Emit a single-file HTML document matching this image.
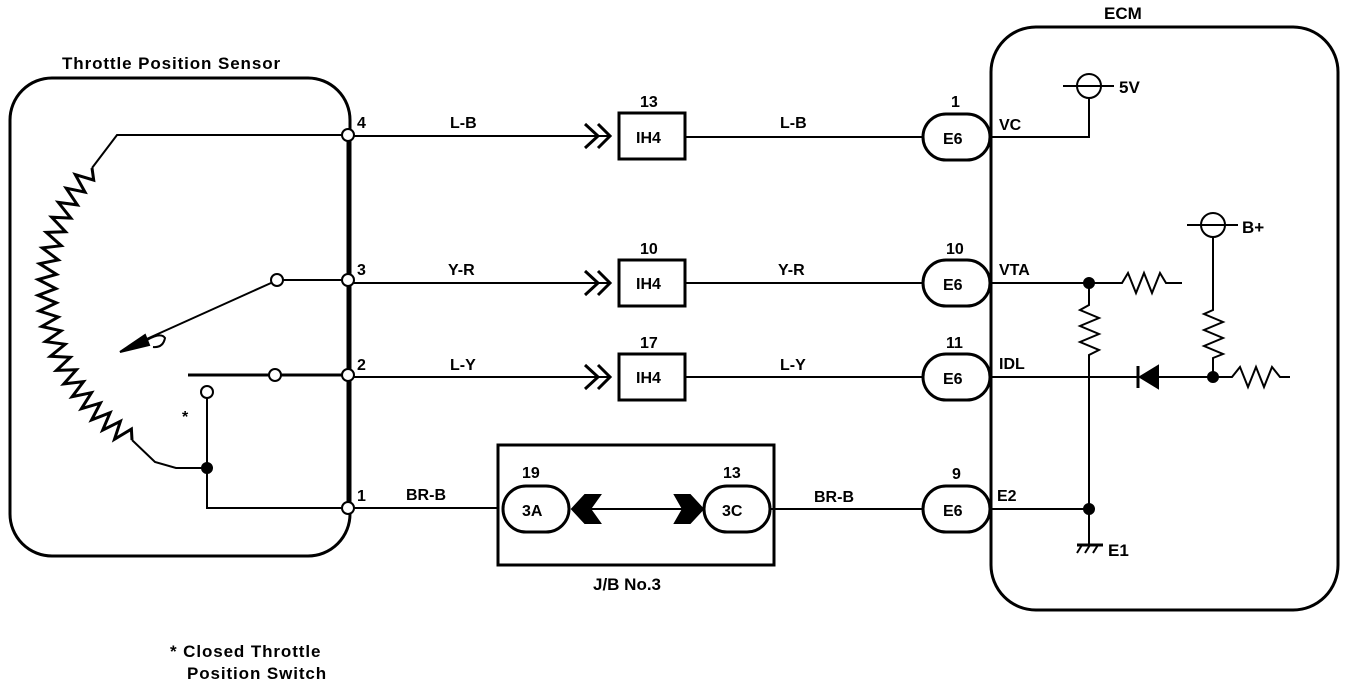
<!DOCTYPE html>
<html><head><meta charset="utf-8"><style>
html,body{margin:0;padding:0;background:#fff;}
svg{display:block;}
text{font-family:"Liberation Sans",Arial,sans-serif;font-weight:bold;fill:#000;}
</style></head><body>
<svg id="s" width="1360" height="686" viewBox="0 0 1360 686" xmlns="http://www.w3.org/2000/svg">
<g fill="none" stroke="#000" stroke-width="2">
<rect x="10" y="78" width="340" height="478" rx="42" stroke-width="3"/>
<rect x="991" y="27" width="347" height="583" rx="45" stroke-width="3"/>
<rect x="498" y="445" width="276" height="120" stroke-width="3"/>

<polyline points="348,135 117,135 92,168"/>
<path id="zz" d="" stroke-width="3"/>
<polyline points="132,440 155,462 176,468 207,468"/>
<circle cx="207" cy="468" r="5" fill="#000"/>
<polyline points="207,398 207,508 348,508"/>
<circle cx="207" cy="392" r="6" fill="#fff"/>
<line x1="283" y1="280" x2="348" y2="280"/>
<circle cx="277" cy="280" r="6" fill="#fff"/>
<line x1="271" y1="283" x2="140" y2="342"/>
<polygon points="120,352 145,335 149,345" fill="#000"/>
<path d="M147,340 q14,-8 18,-2 q-2,10 -12,9"/>
<line x1="188" y1="375" x2="348" y2="375" stroke-width="3"/>
<circle cx="275" cy="375" r="6" fill="#fff"/>
<line x1="348" y1="135" x2="348" y2="508" stroke-width="3"/>

<line x1="354" y1="136" x2="610" y2="136"/>
<line x1="354" y1="283" x2="610" y2="283"/>
<line x1="354" y1="377" x2="610" y2="377"/>
<line x1="354" y1="508" x2="498" y2="508"/>
<line x1="686" y1="137" x2="923" y2="137"/>
<line x1="686" y1="283" x2="923" y2="283"/>
<line x1="686" y1="377" x2="923" y2="377"/>
<line x1="770" y1="509" x2="923" y2="509"/>
<line x1="575" y1="509" x2="695" y2="509"/>
<g stroke-width="3">
<polyline points="585,124 598,136 585,148"/><polyline points="598,124 610,136 598,148"/>
<polyline points="585,271 598,283 585,295"/><polyline points="598,271 610,283 598,295"/>
<polyline points="585,365 598,377 585,389"/><polyline points="598,365 610,377 598,389"/>
</g>
<polygon points="572,509 585,495 600,495 590,509 600,523 585,523" fill="#000"/>
<polygon points="703,509 690,495 675,495 683,509 675,523 690,523" fill="#000"/>
<rect x="619" y="113" width="66" height="46" stroke-width="3"/>
<rect x="619" y="260" width="66" height="46" stroke-width="3"/>
<rect x="619" y="354" width="66" height="46" stroke-width="3"/>
<rect x="923" y="114" width="67" height="46" rx="23" stroke-width="3" fill="#fff"/>
<rect x="923" y="260" width="67" height="46" rx="23" stroke-width="3" fill="#fff"/>
<rect x="923" y="354" width="67" height="46" rx="23" stroke-width="3" fill="#fff"/>
<rect x="923" y="486" width="67" height="46" rx="23" stroke-width="3" fill="#fff"/>
<rect x="503" y="486" width="66" height="46" rx="23" stroke-width="3" fill="#fff"/>
<rect x="704" y="486" width="66" height="46" rx="23" stroke-width="3" fill="#fff"/>
<g fill="#fff"><circle cx="348" cy="135" r="6"/><circle cx="348" cy="280" r="6"/><circle cx="348" cy="375" r="6"/><circle cx="348" cy="508" r="6"/></g>

<polyline points="992,137 1089,137 1089,97"/>
<circle cx="1089" cy="86" r="12"/>
<line x1="1063" y1="86" x2="1114" y2="86"/>
<line x1="992" y1="283" x2="1117" y2="283"/>
<polyline points="1117,283 1122,283 1128,273 1136,293 1144,273 1152,293 1160,273 1166,283 1182,283"/>
<polyline points="1089,283 1089,305 1080,310 1099,318 1080,326 1099,334 1080,342 1099,350 1089,355 1089,545"/>
<circle cx="1089" cy="283" r="5" fill="#000"/>
<circle cx="1089" cy="509" r="5" fill="#000"/>
<line x1="992" y1="509" x2="1089" y2="509"/>
<line x1="992" y1="377" x2="1213" y2="377"/>
<polygon points="1140,377 1158,366 1158,388" fill="#000"/>
<line x1="1138" y1="366" x2="1138" y2="388" stroke-width="3"/>
<circle cx="1213" cy="225" r="12"/>
<line x1="1187" y1="225" x2="1238" y2="225"/>
<polyline points="1213,237 1213,310 1204,314 1223,322 1204,330 1223,338 1204,346 1223,354 1213,358 1213,377"/>
<circle cx="1213" cy="377" r="5" fill="#000"/>
<polyline points="1213,377 1232,377 1240,367 1248,387 1256,367 1264,387 1272,367 1280,377 1290,377"/>
<line x1="1077" y1="545" x2="1103" y2="545" stroke-width="3"/>
<line x1="1082" y1="545" x2="1077" y2="553"/><line x1="1090" y1="545" x2="1085" y2="553"/><line x1="1098" y1="545" x2="1093" y2="553"/>
</g>

<g font-size="16">
<text x="62" y="69" font-size="17" letter-spacing="0.9">Throttle Position Sensor</text>
<text x="1104" y="19" font-size="17">ECM</text>
<text x="357" y="128">4</text><text x="357" y="275">3</text><text x="357" y="370">2</text><text x="357" y="501">1</text>
<text x="450" y="128">L-B</text><text x="448" y="275">Y-R</text><text x="450" y="370">L-Y</text><text x="406" y="500">BR-B</text>
<text x="780" y="128">L-B</text><text x="778" y="275">Y-R</text><text x="780" y="370">L-Y</text><text x="814" y="502">BR-B</text>
<text x="640" y="107">13</text><text x="640" y="254">10</text><text x="640" y="348">17</text>
<text x="636" y="143">IH4</text><text x="636" y="289">IH4</text><text x="636" y="383">IH4</text>
<text x="951" y="107">1</text><text x="946" y="254">10</text><text x="946" y="348">11</text><text x="952" y="479">9</text>
<text x="943" y="144">E6</text><text x="943" y="290">E6</text><text x="943" y="384">E6</text><text x="943" y="516">E6</text>
<text x="522" y="478">19</text><text x="723" y="478">13</text>
<text x="522" y="516">3A</text><text x="722" y="516">3C</text>
<text x="593" y="590" font-size="17">J/B No.3</text>
<text x="999" y="130">VC</text><text x="999" y="275">VTA</text><text x="999" y="369">IDL</text><text x="997" y="501">E2</text>
<text x="1119" y="93" font-size="17">5V</text><text x="1242" y="233" font-size="17">B+</text><text x="1108" y="556" font-size="17">E1</text>
<text x="182" y="422">*</text>
<text x="170" y="657" font-size="17" letter-spacing="0.9">* Closed Throttle</text>
<text x="187" y="679" font-size="17" letter-spacing="0.9">Position Switch</text>
</g>
</svg>
<script>
(function(){
var cx=228,cy=300,n=42,pts=[];
var a0=Math.atan2(168-cy,92-cx),a1=Math.atan2(440-cy,132-cx);
if(a1<0)a1+=2*Math.PI; if(a0<0)a0+=2*Math.PI;
var r0=Math.hypot(92-cx,168-cy),r1=Math.hypot(132-cx,440-cy);
for(var i=0;i<=n;i++){var t=i/n;var a=a0+(a1-a0)*t;var r=r0+(r1-r0)*t;
var off=(i==0||i==n)?0:(i%2?-9:9);
pts.push((cx+(r+off)*Math.cos(a)).toFixed(1)+","+(cy+(r+off)*Math.sin(a)).toFixed(1));}
document.getElementById('zz').setAttribute('d','M'+pts.join(' L'));
})();
</script>
</body></html>
